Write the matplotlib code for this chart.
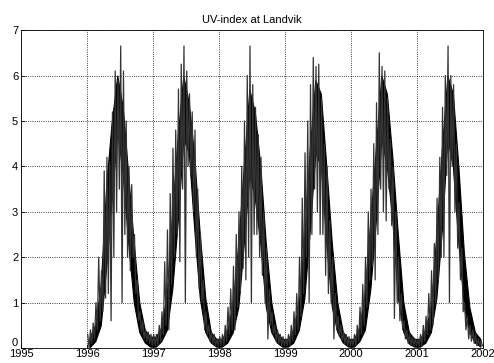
import numpy as np
import matplotlib.pyplot as plt

plt.rcParams['font.family'] = ['Liberation Sans', 'DejaVu Sans']

# UV-index per half-month: upper (spike tops) and lower (dips), one list per year
years = [1996, 1997, 1998, 1999, 2000, 2001]

uv_high_1996 = [0.3, 0.4, 0.55, 1.0, 2.0, 1.7, 3.9, 4.2, 4.1, 5.2, 6.1, 5.9,
                6.65, 6.1, 5.0, 4.0, 3.6, 2.5, 1.5, 0.8, 0.6, 0.4, 0.35, 0.3]
uv_low_1996 = [0.0, 0.1, 0.2, 0.4, 0.6, 0.8, 1.1, 1.2, 0.6, 2.0, 3.0, 3.5,
               1.0, 2.5, 2.0, 1.7, 2.0, 1.2, 0.6, 0.35, 0.2, 0.15, 0.1, 0.05]

uv_high_1997 = [0.3, 0.3, 0.5, 0.8, 1.9, 2.6, 3.4, 4.4, 4.8, 5.7, 6.25, 6.65,
                6.1, 5.6, 5.2, 4.8, 3.5, 2.5, 1.5, 0.8, 0.5, 0.35, 0.3, 0.2]
uv_low_1997 = [0.05, 0.05, 0.15, 0.3, 0.5, 0.4, 1.4, 2.0, 2.5, 1.9, 3.5, 1.0,
               4.0, 3.8, 3.0, 2.0, 1.3, 1.0, 0.4, 0.3, 0.15, 0.1, 0.05, 0.05]

uv_high_1998 = [0.25, 0.3, 0.5, 0.9, 1.3, 1.8, 2.5, 3.0, 4.0, 5.0, 6.0, 6.65,
                5.8, 5.3, 4.7, 4.2, 3.0, 2.2, 1.3, 0.8, 0.5, 0.4, 0.3, 0.25]
uv_low_1998 = [0.05, 0.05, 0.15, 0.3, 0.4, 0.4, 0.9, 1.2, 1.75, 1.5, 2.0, 1.0,
               2.5, 2.5, 2.0, 1.6, 1.0, 0.2, 0.5, 0.3, 0.15, 0.1, 0.05, 0.05]

uv_high_1999 = [0.2, 0.3, 0.5, 0.8, 1.2, 2.0, 3.3, 4.3, 5.0, 5.8, 6.4, 6.2,
                6.25, 5.5, 4.5, 4.0, 2.8, 2.0, 1.2, 0.7, 0.5, 0.35, 0.3, 0.25]
uv_low_1999 = [0.05, 0.05, 0.15, 0.3, 0.4, 0.7, 1.2, 2.0, 1.0, 2.5, 3.5, 3.0,
               2.5, 2.5, 1.6, 1.2, 1.0, 0.2, 0.4, 0.25, 0.15, 0.1, 0.05, 0.05]

uv_high_2000 = [0.2, 0.3, 0.5, 0.9, 1.4, 2.0, 3.0, 3.5, 4.5, 5.4, 6.5, 6.2,
                6.1, 5.5, 4.6, 4.0, 3.0, 2.0, 1.2, 0.6, 0.4, 0.3, 0.25, 0.2]
uv_low_2000 = [0.05, 0.05, 0.15, 0.3, 0.5, 0.9, 1.5, 1.8, 1.5, 2.5, 3.5, 3.0,
               2.8, 3.5, 2.7, 0.65, 1.0, 0.6, 0.4, 0.2, 0.1, 0.05, 0.05, 0.05]

uv_high_2001 = [0.2, 0.3, 0.5, 0.7, 1.2, 1.7, 2.3, 3.3, 4.2, 5.3, 6.0, 6.65,
                6.0, 5.8, 4.5, 3.2, 2.2, 1.0, 0.7, 0.5, 0.4, 0.3, 0.2, 0.15]
uv_low_2001 = [0.05, 0.05, 0.15, 0.3, 0.4, 0.5, 1.0, 1.5, 2.0, 2.0, 3.8, 1.0,
               4.0, 3.0, 2.2, 1.5, 0.8, 0.4, 0.2, 0.15, 0.1, 0.05, 0.05, 0.05]

# monthly band where most daily values fall
core_low_1996 = [0.02, 0.15, 0.5, 1.8, 3.3, 4.8, 3.8, 2.3, 1.0, 0.35, 0.12, 0.03]
core_high_1996 = [0.25, 0.5, 1.4, 3.6, 5.0, 6.0, 5.3, 3.8, 2.3, 1.0, 0.4, 0.25]
core_low_1997 = [0.03, 0.15, 0.4, 1.3, 2.8, 4.6, 4.3, 2.6, 1.1, 0.35, 0.12, 0.03]
core_high_1997 = [0.25, 0.45, 1.2, 3.0, 4.7, 6.0, 5.4, 4.2, 2.5, 1.1, 0.35, 0.2]
core_low_1998 = [0.03, 0.12, 0.35, 0.9, 2.3, 3.8, 3.3, 2.3, 0.9, 0.35, 0.12, 0.03]
core_high_1998 = [0.2, 0.4, 1.0, 2.3, 4.0, 5.7, 5.2, 4.0, 2.3, 1.0, 0.35, 0.2]
core_low_1999 = [0.03, 0.12, 0.4, 1.1, 2.6, 4.3, 4.0, 2.3, 0.9, 0.35, 0.12, 0.03]
core_high_1999 = [0.2, 0.4, 1.0, 2.5, 4.4, 5.9, 5.6, 4.0, 2.3, 1.0, 0.35, 0.2]
core_low_2000 = [0.03, 0.15, 0.4, 1.3, 2.8, 4.6, 4.0, 2.8, 1.1, 0.35, 0.1, 0.03]
core_high_2000 = [0.2, 0.45, 1.2, 2.8, 4.4, 6.0, 5.6, 4.2, 2.5, 1.0, 0.35, 0.2]
core_low_2001 = [0.03, 0.12, 0.35, 1.1, 2.6, 4.6, 4.0, 2.3, 0.9, 0.35, 0.12, 0.03]
core_high_2001 = [0.2, 0.4, 0.9, 2.5, 4.4, 6.0, 5.6, 4.0, 2.1, 0.9, 0.35, 0.2]

uv_high = [uv_high_1996, uv_high_1997, uv_high_1998,
           uv_high_1999, uv_high_2000, uv_high_2001]
uv_low = [uv_low_1996, uv_low_1997, uv_low_1998,
          uv_low_1999, uv_low_2000, uv_low_2001]
core_low = [core_low_1996, core_low_1997, core_low_1998,
            core_low_1999, core_low_2000, core_low_2001]
core_high = [core_high_1996, core_high_1997, core_high_1998,
             core_high_1999, core_high_2000, core_high_2001]

# interleave tops and dips so the trace zig-zags through each half-month
t, uv = [], []
for year, hi, lo in zip(years, uv_high, uv_low):
    n = len(hi)
    for i in range(n):
        t.append(year + (i + 0.25) / n)
        uv.append(hi[i])
        t.append(year + (i + 0.75) / n)
        uv.append(lo[i])

tc, clo, chi = [], [], []
for year, lo, hi in zip(years, core_low, core_high):
    n = len(lo)
    for i in range(n):
        tc.append(year + (i + 0.5) / n)
        clo.append(lo[i])
        chi.append(hi[i])

fig = plt.figure(figsize=(4.94, 3.63), dpi=100)
ax = fig.add_axes([0.0425, 0.0413, 0.9355, 0.8757])
ax.fill_between(tc, clo, chi, color='black', linewidth=0.8, zorder=3)
ax.plot(t, uv, color='#333333', linewidth=0.9, zorder=3)

ax.set_xlim(1995, 2002)
ax.set_ylim(0, 7)
ax.set_xticks(range(1995, 2003))
ax.set_yticks(range(0, 8))
ax.grid(True, linestyle=':', color='black', linewidth=0.6)
ax.tick_params(direction='in', length=3, labelsize=8, width=0.6)
ax.tick_params(axis='x', pad=1)
ax.tick_params(axis='y', pad=2)
# the zero label sits on the axis line, clear of the first year label
ax.get_yticklabels()[0].set_va('bottom')
for s in ax.spines.values():
    s.set_linewidth(0.6)
ax.set_title('UV-index at Landvik', fontsize=8, pad=5)

fig.savefig('out.png', dpi=100)
